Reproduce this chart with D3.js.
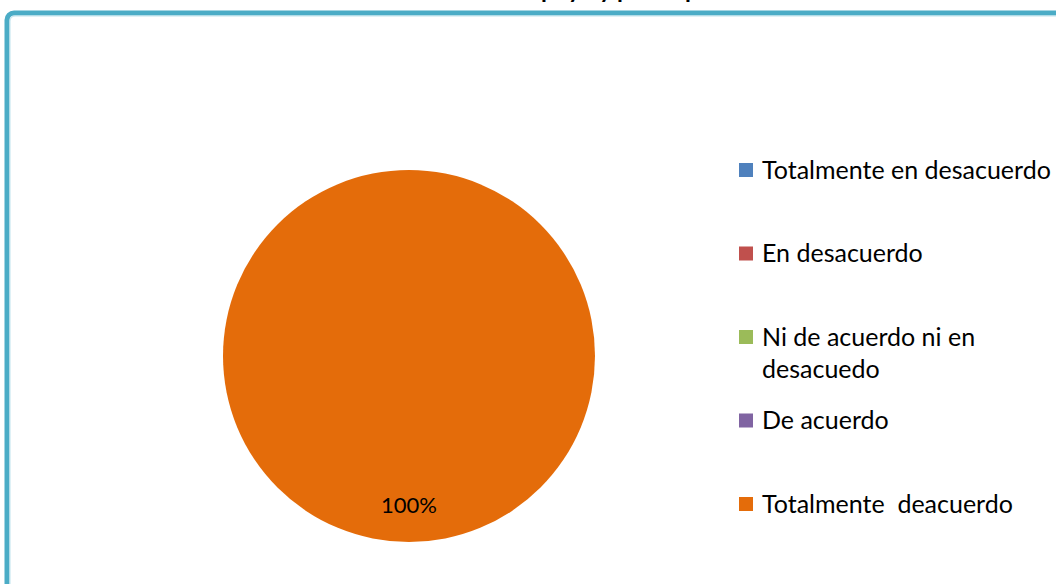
<!DOCTYPE html>
<html lang="es">
<head>
<meta charset="UTF-8">
<title>Gráfico circular</title>
<script src="https://d3js.org/d3.v7.min.js"></script>
<style>
  body { margin: 0; background: #fff; }
  text { font-family: Lato, "Open Sans", sans-serif; }
</style>
</head>
<body>
<script>
    var categories = ["Totalmente en desacuerdo", "En desacuerdo", "Ni de acuerdo ni en desacuedo", "De acuerdo", "Totalmente  deacuerdo"];
    var legendLines = [["Totalmente en desacuerdo"], ["En desacuerdo"], ["Ni de acuerdo ni en", "desacuedo"], ["De acuerdo"], ["Totalmente\u00a0 deacuerdo"]];
    var values = [0, 0, 0, 0, 100];
    var colors = ["#4F81BD", "#C0504D", "#9BBB59", "#8064A2", "#E46C0A"];
    var title = "Apoyo y participación";

    var w = 1056, h = 584;

    var svg = d3.select("body").append("svg")
        .attr("width", w)
        .attr("height", h);

    // borde del gráfico (cortado arriba/derecha/abajo)
    svg.append("rect")
        .attr("x", 7).attr("y", 13)
        .attr("width", w + 20).attr("height", h + 20)
        .attr("rx", 7)
        .attr("fill", "none")
        .attr("stroke", "#4BACC6")
        .attr("stroke-width", 5);
    svg.append("rect")
        .attr("x", 10).attr("y", 16)
        .attr("width", w + 20).attr("height", h + 20)
        .attr("rx", 5)
        .attr("fill", "none")
        .attr("stroke", "#BFE3ED")
        .attr("stroke-width", 1);

    // título (casi todo fuera de la ventana, como en el original)
    svg.append("text")
        .attr("x", 640).attr("y", -2)
        .attr("text-anchor", "middle")
        .attr("font-weight", "bold")
        .attr("font-size", 24)
        .text(title);

    var cx = 409, cy = 356, r = 186;

    var pie = d3.pie().sort(null).value(function(d) { return d; });
    var arcs = pie(values);

    var arc = d3.arc().innerRadius(0).outerRadius(r);
    var labelArc = d3.arc().innerRadius(r * 0.6).outerRadius(r);

    var g = svg.append("g").attr("transform", "translate(" + cx + "," + cy + ")");

    g.selectAll("path")
        .data(arcs)
        .enter()
        .append("path")
        .attr("d", arc)
        .attr("fill", function(d, i) { return colors[i]; });

    var total = d3.sum(values);
    g.selectAll("text.lbl")
        .data(arcs.filter(function(d) { return d.value > 0; }))
        .enter()
        .append("text")
        .attr("class", "lbl")
        .attr("transform", function(d) { return "translate(" + labelArc.centroid(d) + ")"; })
        .attr("text-anchor", "middle")
        .attr("dy", "0.38em")
        .attr("font-size", 22)
        .attr("fill", "#000")
        .text(function(d) { return Math.round(d.value / total * 100) + "%"; });

    // leyenda
    var legendY = d3.scalePoint()
        .domain(d3.range(categories.length))
        .range([170, 504]);

    var legend = svg.selectAll("g.leg")
        .data(categories)
        .enter()
        .append("g")
        .attr("class", "leg")
        .attr("transform", function(d, i) { return "translate(739," + legendY(i) + ")"; });

    legend.append("rect")
        .attr("x", 0).attr("y", -7)
        .attr("width", 14).attr("height", 14)
        .attr("fill", function(d, i) { return colors[i]; });

    legend.append("text")
        .attr("x", 23)
        .attr("y", 8.5)
        .attr("font-size", 25)
        .attr("fill", "#000")
        .selectAll("tspan")
        .data(function(d, i) { return legendLines[i]; })
        .enter()
        .append("tspan")
        .attr("x", 23)
        .attr("dy", function(d, j) { return j === 0 ? 0 : 32; })
        .text(function(d) { return d; });
</script>
</body>
</html>
